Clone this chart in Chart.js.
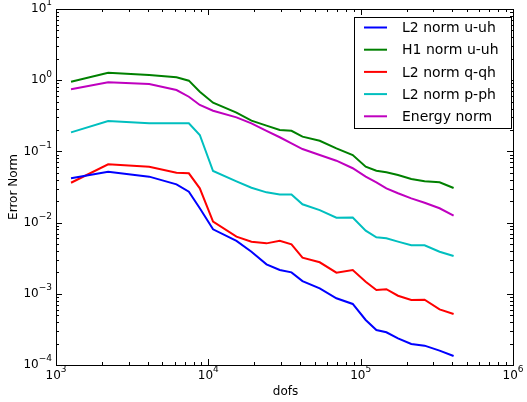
<!DOCTYPE html>
<html>
<head>
<meta charset="utf-8">
<script src="https://cdn.jsdelivr.net/npm/chart.js@4/dist/chart.umd.min.js"></script>
<style>
  html, body { margin: 0; padding: 0; background: #fff; }
  #wrap { width: 527px; height: 402px; }
</style>
</head>
<body>
<div id="wrap"><canvas id="myChart" width="527" height="402"></canvas></div>
<script>
// degrees of freedom (x values shared by every series)
const dofs = [1255, 2200, 4090, 6180, 7450, 8790, 10740, 15300, 19190, 24090, 29440, 35140,
              41500, 53850, 69300, 88700, 107900, 126800, 147500, 175800, 214900, 262800, 329600, 407500];

const l2u = [0.0419, 0.0519, 0.0442, 0.0345, 0.0272, 0.0159, 0.00805, 0.00552, 0.0039, 0.00259, 0.00216, 0.0020,
             0.00151, 0.00119, 0.000865, 0.00072, 0.000429, 0.00031, 0.000288, 0.000237, 0.000197, 0.000187, 0.000159, 0.000134];
const h1u = [0.953, 1.27, 1.18, 1.10, 0.985, 0.69, 0.483, 0.35, 0.27, 0.23, 0.20, 0.195,
             0.161, 0.141, 0.11, 0.089, 0.061, 0.0536, 0.0508, 0.0466, 0.041, 0.038, 0.0368, 0.0306];
const l2q = [0.0363, 0.0659, 0.061, 0.0502, 0.0492, 0.0303, 0.0103, 0.00634, 0.0054, 0.00511, 0.00557, 0.00495,
             0.00321, 0.00277, 0.00198, 0.00216, 0.00148, 0.00113, 0.00116, 0.00094, 0.000818, 0.000826, 0.000605, 0.00052];
const l2p = [0.185, 0.267, 0.248, 0.248, 0.248, 0.17, 0.0531, 0.038, 0.0309, 0.0266, 0.0249, 0.0249,
             0.0181, 0.015, 0.0117, 0.0118, 0.00769, 0.00621, 0.00601, 0.0054, 0.0048, 0.0048, 0.0039, 0.0034];
const energy = [0.745, 0.933, 0.885, 0.728, 0.586, 0.449, 0.373, 0.301, 0.248, 0.194, 0.158, 0.13,
                0.108, 0.089, 0.074, 0.058, 0.0442, 0.0368, 0.0303, 0.0258, 0.0219, 0.019, 0.0159, 0.0125];

const seriesNames = ["L2 norm u-uh", "H1 norm u-uh", "L2 norm q-qh", "L2 norm p-ph", "Energy norm"];
const seriesValues = [l2u, h1u, l2q, l2p, energy];
const seriesColors = ["#0000ff", "#008000", "#ff0000", "#00bfbf", "#bf00bf"];

const xDecades = [3, 4, 5, 6];
const yDecades = [-4, -3, -2, -1, 0, 1];

const FONT = '"DejaVu Sans", sans-serif';

function drawPow(ctx, exp, x, y, align) {
    // "10" with a raised exponent; align = 'center' or 'right'
    ctx.font = '12px ' + FONT;
    const base = '10';
    const sup = String(exp).replace('-', '\u2212');
    const bw = ctx.measureText(base).width;
    ctx.font = '9px ' + FONT;
    const sw = ctx.measureText(sup).width;
    const total = bw + sw;
    let left = align === 'right' ? x - total : x - total / 2;
    ctx.textAlign = 'left';
    ctx.textBaseline = 'middle';
    ctx.font = '12px ' + FONT;
    ctx.fillText(base, left, y);
    ctx.font = '9px ' + FONT;
    ctx.fillText(sup, left + bw, y - 6);
}

const framePlugin = {
    id: 'frame',
    afterDraw(chart) {
        const ctx = chart.ctx;
        const a = chart.chartArea;
        const xs = chart.scales.x;
        const ys = chart.scales.y;
        ctx.save();
        ctx.strokeStyle = '#000';
        ctx.fillStyle = '#000';
        ctx.lineWidth = 1;
        ctx.strokeRect(a.left + 0.5, a.top + 0.5, a.right - a.left, a.bottom - a.top);

        ctx.beginPath();
        // x ticks, top and bottom, pointing in
        for (let d = 3; d < 6; d++) {
            for (let m = 1; m < 10; m++) {
                const px = Math.round(xs.getPixelForValue(m * Math.pow(10, d))) + 0.5;
                const len = m === 1 ? 6 : 3;
                ctx.moveTo(px, a.bottom); ctx.lineTo(px, a.bottom - len);
                ctx.moveTo(px, a.top); ctx.lineTo(px, a.top + len);
            }
        }
        // y ticks, left and right
        for (let d = -4; d < 1; d++) {
            for (let m = 1; m < 10; m++) {
                const py = Math.round(ys.getPixelForValue(m * Math.pow(10, d))) + 0.5;
                const len = m === 1 ? 6 : 3;
                ctx.moveTo(a.left, py); ctx.lineTo(a.left + len, py);
                ctx.moveTo(a.right, py); ctx.lineTo(a.right - len, py);
            }
        }
        ctx.stroke();

        xDecades.forEach(e => drawPow(ctx, e, xs.getPixelForValue(Math.pow(10, e)), a.bottom + 11, 'center'));
        yDecades.forEach(e => drawPow(ctx, e, a.left - 4, ys.getPixelForValue(Math.pow(10, e)), 'right'));

        // axis titles
        ctx.font = '12px ' + FONT;
        ctx.textAlign = 'center';
        ctx.textBaseline = 'middle';
        ctx.fillText('dofs', (a.left + a.right) / 2 + 1, 392);
        ctx.save();
        ctx.translate(14, (a.top + a.bottom) / 2);
        ctx.rotate(-Math.PI / 2);
        ctx.fillText('Error Norm', 0, 0);
        ctx.restore();

        // legend box
        const lx = 354, ly = 17, lw = 157, lh = 111;
        ctx.fillStyle = '#fff';
        ctx.fillRect(lx, ly, lw, lh);
        ctx.strokeStyle = '#000';
        ctx.strokeRect(lx + 0.5, ly + 0.5, lw, lh);
        ctx.font = '14px ' + FONT;
        ctx.textAlign = 'left';
        seriesNames.forEach((name, i) => {
            const y = 27.5 + i * 22.2;
            ctx.strokeStyle = seriesColors[i];
            ctx.lineWidth = 2;
            ctx.beginPath();
            ctx.moveTo(364, y); ctx.lineTo(387, y);
            ctx.stroke();
            ctx.fillStyle = '#000';
            ctx.fillText(name, 402, y + 1);
        });
        ctx.restore();
    }
};

const datasets = seriesNames.map((name, i) => ({
    label: name,
    data: dofs.map((d, k) => ({ x: d, y: seriesValues[i][k] })),
    borderColor: seriesColors[i],
    backgroundColor: seriesColors[i],
    borderWidth: 2,
    pointRadius: 0,
    tension: 0,
    fill: false
}));

const ctx = document.getElementById('myChart').getContext('2d');
const myChart = new Chart(ctx, {
    type: 'line',
    data: { datasets },
    plugins: [framePlugin],
    options: {
        responsive: false,
        animation: false,
        layout: { padding: { left: 56, right: 14, top: 9, bottom: 37 } },
        plugins: {
            legend: { display: false },
            tooltip: { enabled: false }
        },
        scales: {
            x: { type: 'logarithmic', min: 1000, max: 1000000, display: false },
            y: { type: 'logarithmic', min: 0.0001, max: 10, display: false }
        }
    }
});
</script>
</body>
</html>
